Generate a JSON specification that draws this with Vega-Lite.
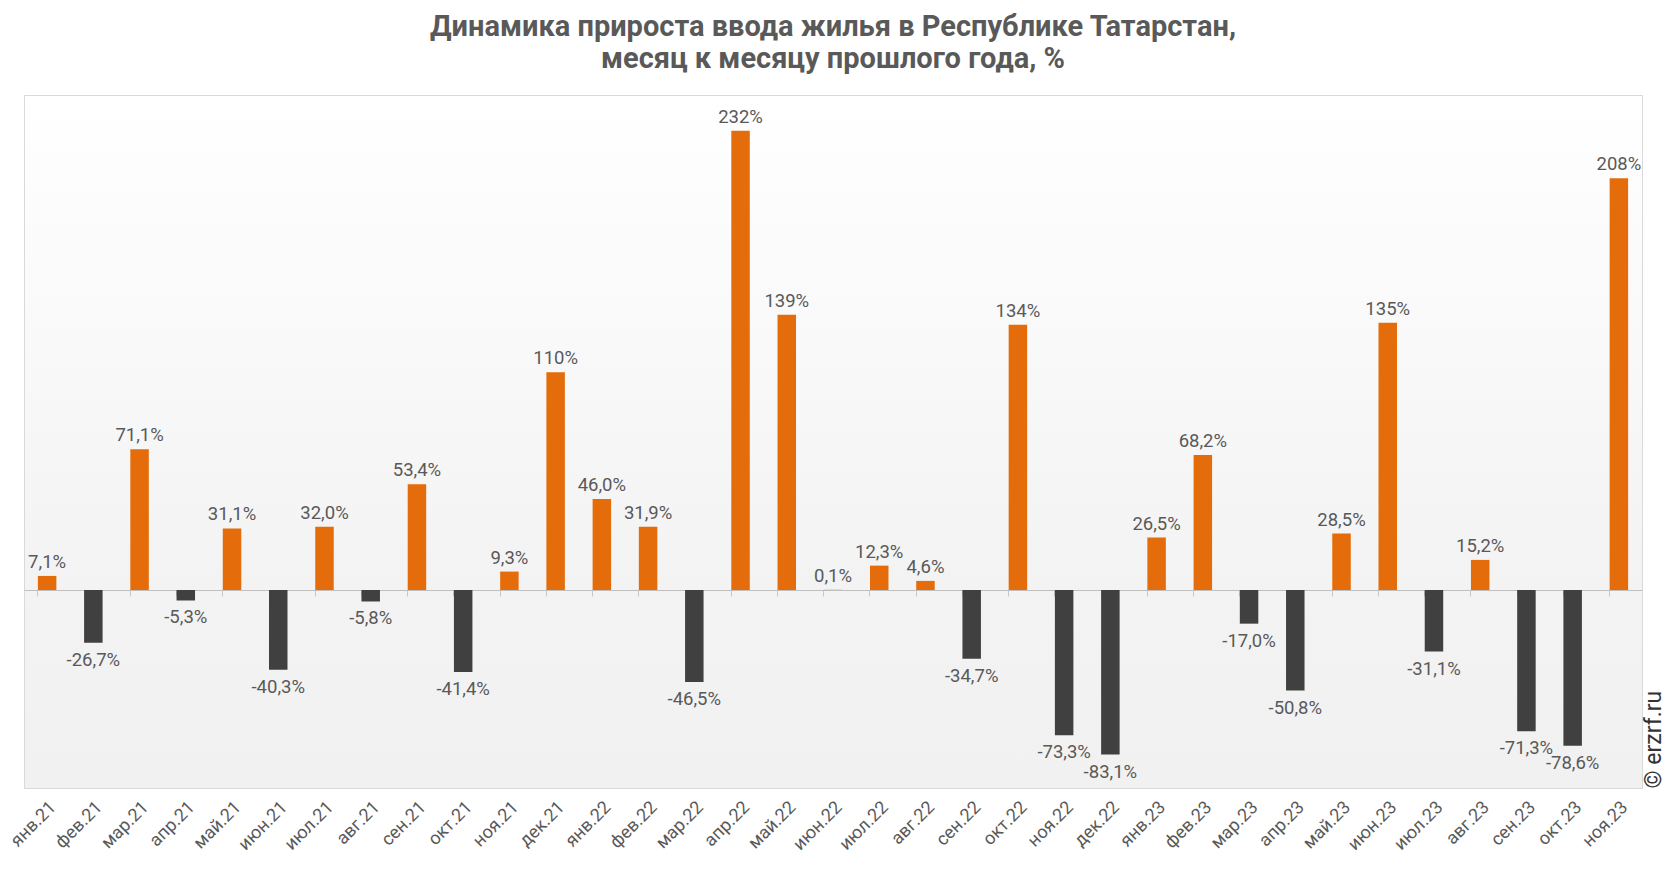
{
  "$schema": "https://vega.github.io/schema/vega-lite/v6.json",
  "autosize": {"type": "none"},
  "padding": {"left": 24, "top": 95, "right": 24, "bottom": 84},
  "width": 1618,
  "height": 693,
  "background": "white",
  "title": {
    "text": ["Динамика прироста ввода жилья в Республике Татарстан,", "месяц к месяцу прошлого года, %"],
    "font": "Roboto",
    "fontSize": 29,
    "fontWeight": "bold",
    "color": "#595959",
    "anchor": "middle",
    "lineHeight": 32,
    "offset": 21
  },
  "config": {
    "font": "Roboto",
    "view": {
      "stroke": "#d9d9d9",
      "fill": {
        "gradient": "linear",
        "x1": 0, "y1": 0, "x2": 0, "y2": 1,
        "stops": [
          {"offset": 0, "color": "#ffffff"},
          {"offset": 0.7, "color": "#f3f3f3"},
          {"offset": 1, "color": "#f1f1f1"}
        ]
      }
    }
  },
  "data": {
    "values": [
      {"month": "янв.21", "value": 7.1, "label": "7,1%"},
      {"month": "фев.21", "value": -26.7, "label": "-26,7%"},
      {"month": "мар.21", "value": 71.1, "label": "71,1%"},
      {"month": "апр.21", "value": -5.3, "label": "-5,3%"},
      {"month": "май.21", "value": 31.1, "label": "31,1%"},
      {"month": "июн.21", "value": -40.3, "label": "-40,3%"},
      {"month": "июл.21", "value": 32.0, "label": "32,0%"},
      {"month": "авг.21", "value": -5.8, "label": "-5,8%"},
      {"month": "сен.21", "value": 53.4, "label": "53,4%"},
      {"month": "окт.21", "value": -41.4, "label": "-41,4%"},
      {"month": "ноя.21", "value": 9.3, "label": "9,3%"},
      {"month": "дек.21", "value": 110, "label": "110%"},
      {"month": "янв.22", "value": 46.0, "label": "46,0%"},
      {"month": "фев.22", "value": 31.9, "label": "31,9%"},
      {"month": "мар.22", "value": -46.5, "label": "-46,5%"},
      {"month": "апр.22", "value": 232, "label": "232%"},
      {"month": "май.22", "value": 139, "label": "139%"},
      {"month": "июн.22", "value": 0.1, "label": "0,1%"},
      {"month": "июл.22", "value": 12.3, "label": "12,3%"},
      {"month": "авг.22", "value": 4.6, "label": "4,6%"},
      {"month": "сен.22", "value": -34.7, "label": "-34,7%"},
      {"month": "окт.22", "value": 134, "label": "134%"},
      {"month": "ноя.22", "value": -73.3, "label": "-73,3%"},
      {"month": "дек.22", "value": -83.1, "label": "-83,1%"},
      {"month": "янв.23", "value": 26.5, "label": "26,5%"},
      {"month": "фев.23", "value": 68.2, "label": "68,2%"},
      {"month": "мар.23", "value": -17.0, "label": "-17,0%"},
      {"month": "апр.23", "value": -50.8, "label": "-50,8%"},
      {"month": "май.23", "value": 28.5, "label": "28,5%"},
      {"month": "июн.23", "value": 135, "label": "135%"},
      {"month": "июл.23", "value": -31.1, "label": "-31,1%"},
      {"month": "авг.23", "value": 15.2, "label": "15,2%"},
      {"month": "сен.23", "value": -71.3, "label": "-71,3%"},
      {"month": "окт.23", "value": -78.6, "label": "-78,6%"},
      {"month": "ноя.23", "value": 208, "label": "208%"}
    ]
  },
  "encoding": {
    "x": {
      "field": "month",
      "type": "ordinal",
      "sort": null,
      "scale": {"paddingInner": 0.6, "paddingOuter": 0.3}
    },
    "y": {
      "field": "value",
      "type": "quantitative",
      "scale": {"domain": [-100, 250], "nice": false, "zero": true}
    }
  },
  "layer": [
    {
      "mark": {"type": "bar"},
      "encoding": {
        "x": {
          "field": "month",
          "type": "ordinal",
          "sort": null,
          "axis": {
            "orient": "bottom",
            "title": null,
            "labelAngle": -45,
            "labelFontSize": 18,
            "labelColor": "#595959",
            "labelPadding": 10,
            "ticks": false,
            "domain": false,
            "grid": false
          }
        },
        "y": {
          "field": "value",
          "type": "quantitative",
          "axis": {
            "orient": "right",
            "title": "© erzrf.ru",
            "titleAngle": 270,
            "titleAnchor": "start",
            "titleFontSize": 23,
            "titleFontWeight": "normal",
            "titleColor": "#333333",
            "titlePadding": 0,
            "titleBaseline": "top",
            "labels": false,
            "ticks": false,
            "domain": false,
            "grid": false
          }
        },
        "color": {
          "condition": {"test": "datum.value < 0", "value": "#404040"},
          "value": "#e46c0a"
        }
      }
    },
    {
      "transform": [{"filter": "datum.value >= 0"}],
      "mark": {"type": "text", "baseline": "bottom", "dy": -4, "fontSize": 18.5, "color": "#595959"},
      "encoding": {
        "x": {
          "field": "month",
          "type": "ordinal",
          "sort": null,
          "axis": {
            "orient": "bottom",
            "offset": -198,
            "title": null,
            "labels": false,
            "ticks": true,
            "tickSize": 6,
            "tickColor": "#c8c8c8",
            "bandPosition": 0,
            "domain": true,
            "domainColor": "#bfbfbf",
            "grid": false
          }
        },
        "y": {"field": "value", "type": "quantitative", "axis": null},
        "text": {"field": "label"}
      }
    },
    {
      "transform": [{"filter": "datum.value < 0"}],
      "mark": {"type": "text", "baseline": "top", "dy": 8, "fontSize": 18.5, "color": "#595959"},
      "encoding": {
        "x": {"field": "month", "type": "ordinal", "sort": null, "axis": null},
        "y": {"field": "value", "type": "quantitative", "axis": null},
        "text": {"field": "label"}
      }
    }
  ],
  "resolve": {"axis": {"x": "independent", "y": "independent"}}
}
